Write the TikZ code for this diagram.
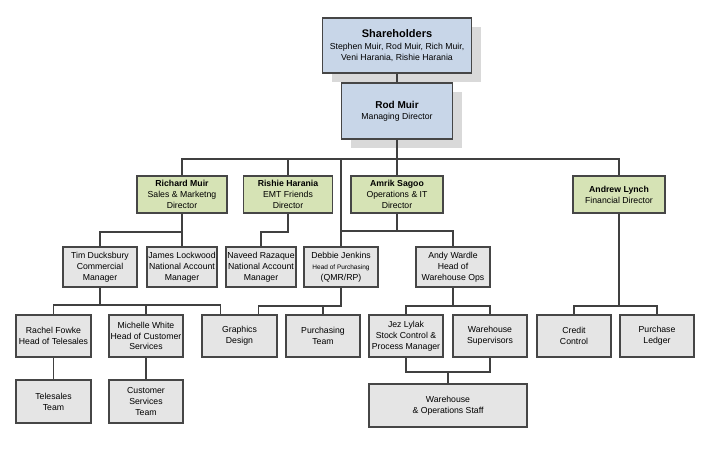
\documentclass[tikz,border=0pt]{standalone}
\usepackage{fontspec}
\setmainfont{Liberation Sans}
\usetikzlibrary{shadows}
\definecolor{bluebox}{RGB}{200,214,232}
\definecolor{greenbox}{RGB}{214,227,181}
\definecolor{graybox}{RGB}{229,229,229}
\definecolor{edgec}{RGB}{70,70,70}
\definecolor{linec}{RGB}{64,64,64}
\definecolor{shadowc}{RGB}{217,217,217}
\tikzset{
  box/.style={draw=edgec, line width=1.2pt, inner sep=0pt, align=center,
    font=\fontsize{8.7}{10.8}\selectfont},
  bluestyle/.style={box, fill=bluebox,
    drop shadow={shadow xshift=9pt, shadow yshift=-9pt, fill=shadowc, opacity=1}},
  greenstyle/.style={box, fill=greenbox},
  graystyle/.style={box, fill=graybox},
  conn/.style={draw=linec, line width=1.1pt}
}
\begin{document}
\begin{tikzpicture}[x=1pt,y=-1pt]
\useasboundingbox (0,0) rectangle (712,452);
% top
\node[bluestyle, minimum width=149pt, minimum height=55pt] (share) at (397,45.5)
  {{\fontsize{11}{13}\selectfont\bfseries Shareholders}\\[1pt]Stephen Muir, Rod Muir, Rich Muir,\\Veni Harania, Rishie Harania};
\node[bluestyle, minimum width=111pt, minimum height=56pt] (rod) at (397,111)
  {{\fontsize{10}{12}\selectfont\bfseries Rod Muir}\\Managing Director};
% directors
\node[greenstyle, minimum width=90pt, minimum height=37pt] (richard) at (182,194.5)
  {\textbf{Richard Muir}\\Sales \& Marketng\\Director};
\node[greenstyle, minimum width=89pt, minimum height=37pt] (rishie) at (288,194.5)
  {\textbf{Rishie Harania}\\EMT Friends\\Director};
\node[greenstyle, minimum width=92pt, minimum height=37pt] (amrik) at (397,194.5)
  {\textbf{Amrik Sagoo}\\Operations \& IT\\Director};
\node[greenstyle, minimum width=92pt, minimum height=37pt] (andrew) at (619,194.5)
  {\textbf{Andrew Lynch}\\Financial Director};
% row 3
\node[graystyle, minimum width=74pt, minimum height=40pt] (tim) at (100,267)
  {Tim Ducksbury\\Commercial\\Manager};
\node[graystyle, minimum width=70pt, minimum height=40pt] (james) at (182,267)
  {James Lockwood\\National Account\\Manager};
\node[graystyle, minimum width=70pt, minimum height=40pt] (naveed) at (261,267)
  {Naveed Razaque\\National Account\\Manager};
\node[graystyle, minimum width=74pt, minimum height=40pt] (debbie) at (341,267)
  {Debbie Jenkins\\{\fontsize{6.5}{8}\selectfont Head of Purchasing}\\(QMR/RP)};
\node[graystyle, minimum width=74pt, minimum height=40pt] (andy) at (453,267)
  {Andy Wardle\\Head of\\Warehouse Ops};
% row 4
\node[graystyle, minimum width=75pt, minimum height=42pt] (rachel) at (53.5,336)
  {Rachel Fowke\\Head of Telesales};
\node[graystyle, minimum width=74pt, minimum height=42pt] (michelle) at (146,336)
  {Michelle White\\Head of Customer\\Services};
\node[graystyle, minimum width=75pt, minimum height=42pt] (graphics) at (239.5,336)
  {Graphics\\Design};
\node[graystyle, minimum width=74pt, minimum height=42pt] (purch) at (323,336)
  {Purchasing\\Team};
\node[graystyle, minimum width=74pt, minimum height=42pt] (jez) at (406,336)
  {Jez Lylak\\Stock Control \&\\Process Manager};
\node[graystyle, minimum width=74pt, minimum height=42pt] (sup) at (490,336)
  {Warehouse\\Supervisors};
\node[graystyle, minimum width=74pt, minimum height=42pt] (credit) at (574,336)
  {Credit\\Control};
\node[graystyle, minimum width=74pt, minimum height=42pt] (ledger) at (657,336)
  {Purchase\\Ledger};
% row 5
\node[graystyle, minimum width=75pt, minimum height=43pt] (telesales) at (53.5,401.5)
  {Telesales\\Team};
\node[graystyle, minimum width=74pt, minimum height=43pt] (custserv) at (146,401.5)
  {Customer\\Services\\Team};
\node[graystyle, minimum width=158pt, minimum height=43pt] (staff) at (448,405.5)
  {Warehouse\\\& Operations Staff};
% junction coordinates
\coordinate (bus) at (397,159);
\coordinate (ja) at (0,231);
\coordinate (jb) at (0,232);
\coordinate (jc) at (0,305);
\coordinate (jd) at (0,306);
\coordinate (je) at (0,372);
\coordinate (g1) at ([xshift=19pt]graphics.north west);
\coordinate (g2) at ([xshift=57pt]graphics.north west);
% connectors
\draw[conn] (share.south) -- (rod.north);
\draw[conn] (rod.south) -- (amrik.north);
\draw[conn] (richard.north) |- (bus) -| (andrew.north);
\draw[conn] (rishie.north) -- (rishie.north |- bus);
\draw[conn] (debbie.north) -- (debbie.north |- bus);
\draw[conn] (amrik.south) |- (andy.north |- ja) -- (andy.north);
\draw[conn] (amrik.south |- ja) -- (debbie.north |- ja);
\draw[conn] (richard.south) -- (james.north);
\draw[conn] (tim.north) |- (james.north |- jb);
\draw[conn] (rishie.south) |- (naveed.north |- jb) -- (naveed.north);
\draw[conn] (tim.south) -- (tim.south |- jc);
\draw[conn] (rachel.north) |- (g1 |- jc) -- (g1);
\draw[conn] (michelle.north) -- (michelle.north |- jc);
\draw[conn] (debbie.south) |- (g2 |- jd) -- (g2);
\draw[conn] (purch.north) -- (purch.north |- jd);
\draw[conn] (andy.south) -- (andy.south |- jd);
\draw[conn] (jez.north) |- (sup.north |- jd) -- (sup.north);
\draw[conn] (jez.south) |- (sup.south |- je) -- (sup.south);
\draw[conn] (staff.north) -- (staff.north |- je);
\draw[conn] (andrew.south) -- (andrew.south |- jd);
\draw[conn] (credit.north) |- (ledger.north |- jd) -- (ledger.north);
\draw[conn] (rachel.south) -- (telesales.north);
\draw[conn] (michelle.south) -- (custserv.north);
\end{tikzpicture}
\end{document}
